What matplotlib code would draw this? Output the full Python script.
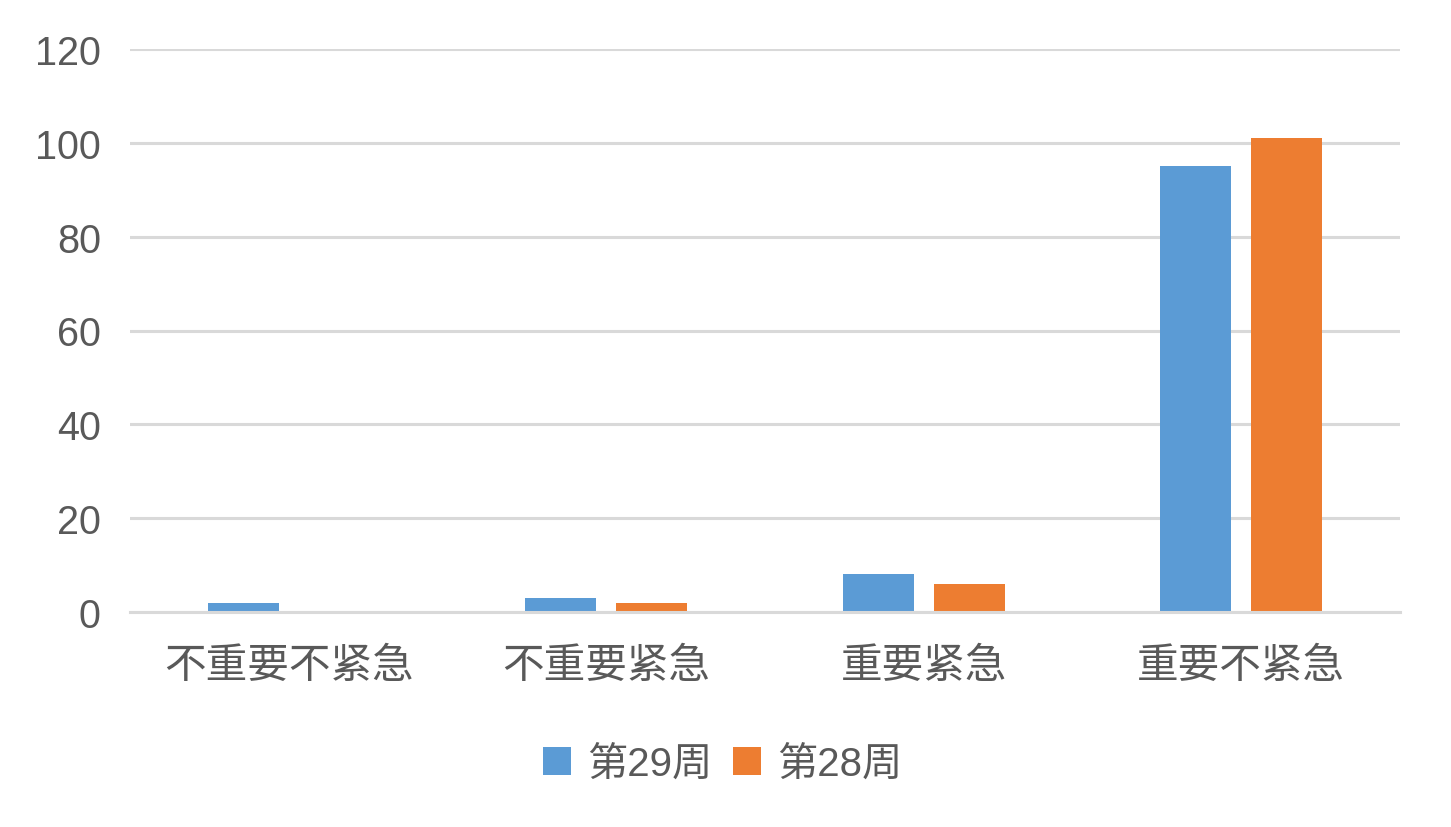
import matplotlib.pyplot as plt
import numpy as np

categories = ["不重要不紧急", "不重要紧急", "重要紧急", "重要不紧急"]
week29 = [2, 3, 8, 95]
week28 = [0, 2, 6, 101]
series_names = ["第29周", "第28周"]

plt.rcParams['font.family'] = ['Liberation Sans', 'Noto Sans CJK SC', 'DejaVu Sans']
gray = "#595959"

fig = plt.figure(figsize=(14.51, 8.28), dpi=100)
ax = fig.add_axes([130 / 1451, 1 - 613 / 828, 1270 / 1451, 563 / 828])

index = np.arange(len(categories))
w = 0.224
ax.bar(index - 0.143, week29, width=w, color="#5B9BD5", label=series_names[0], zorder=3)
ax.bar(index + 0.143, week28, width=w, color="#ED7D31", label=series_names[1], zorder=3)

ax.set_xlim(-0.5, 3.5)
ax.set_ylim(0, 120)
ax.set_yticks(range(0, 121, 20))
ax.set_xticks(index)
ax.set_xticklabels(categories, family=['Noto Sans CJK SC', 'DejaVu Sans'])
ax.tick_params(axis='y', length=0, pad=21, labelsize=28.5, labelcolor=gray)
ax.tick_params(axis='x', length=0, pad=24, labelsize=30, labelcolor=gray)

ax.grid(axis='y', color="#d9d9d9", linewidth=2.2, zorder=0)
for s in ["top", "right", "left"]:
    ax.spines[s].set_visible(False)
ax.spines["bottom"].set_color("#d9d9d9")
ax.spines["bottom"].set_linewidth(2.2)
ax.spines["bottom"].set_zorder(4)

leg = fig.legend(loc="center", bbox_to_anchor=(0.498, 0.076), ncol=2, frameon=False,
                 handlelength=0.7, handleheight=0.7, handletextpad=0.4,
                 columnspacing=0.5, prop={'family': ['Liberation Sans', 'Noto Sans CJK SC'], 'size': 29})
for t in leg.get_texts():
    t.set_color(gray)

fig.savefig("out.png", dpi=100)
